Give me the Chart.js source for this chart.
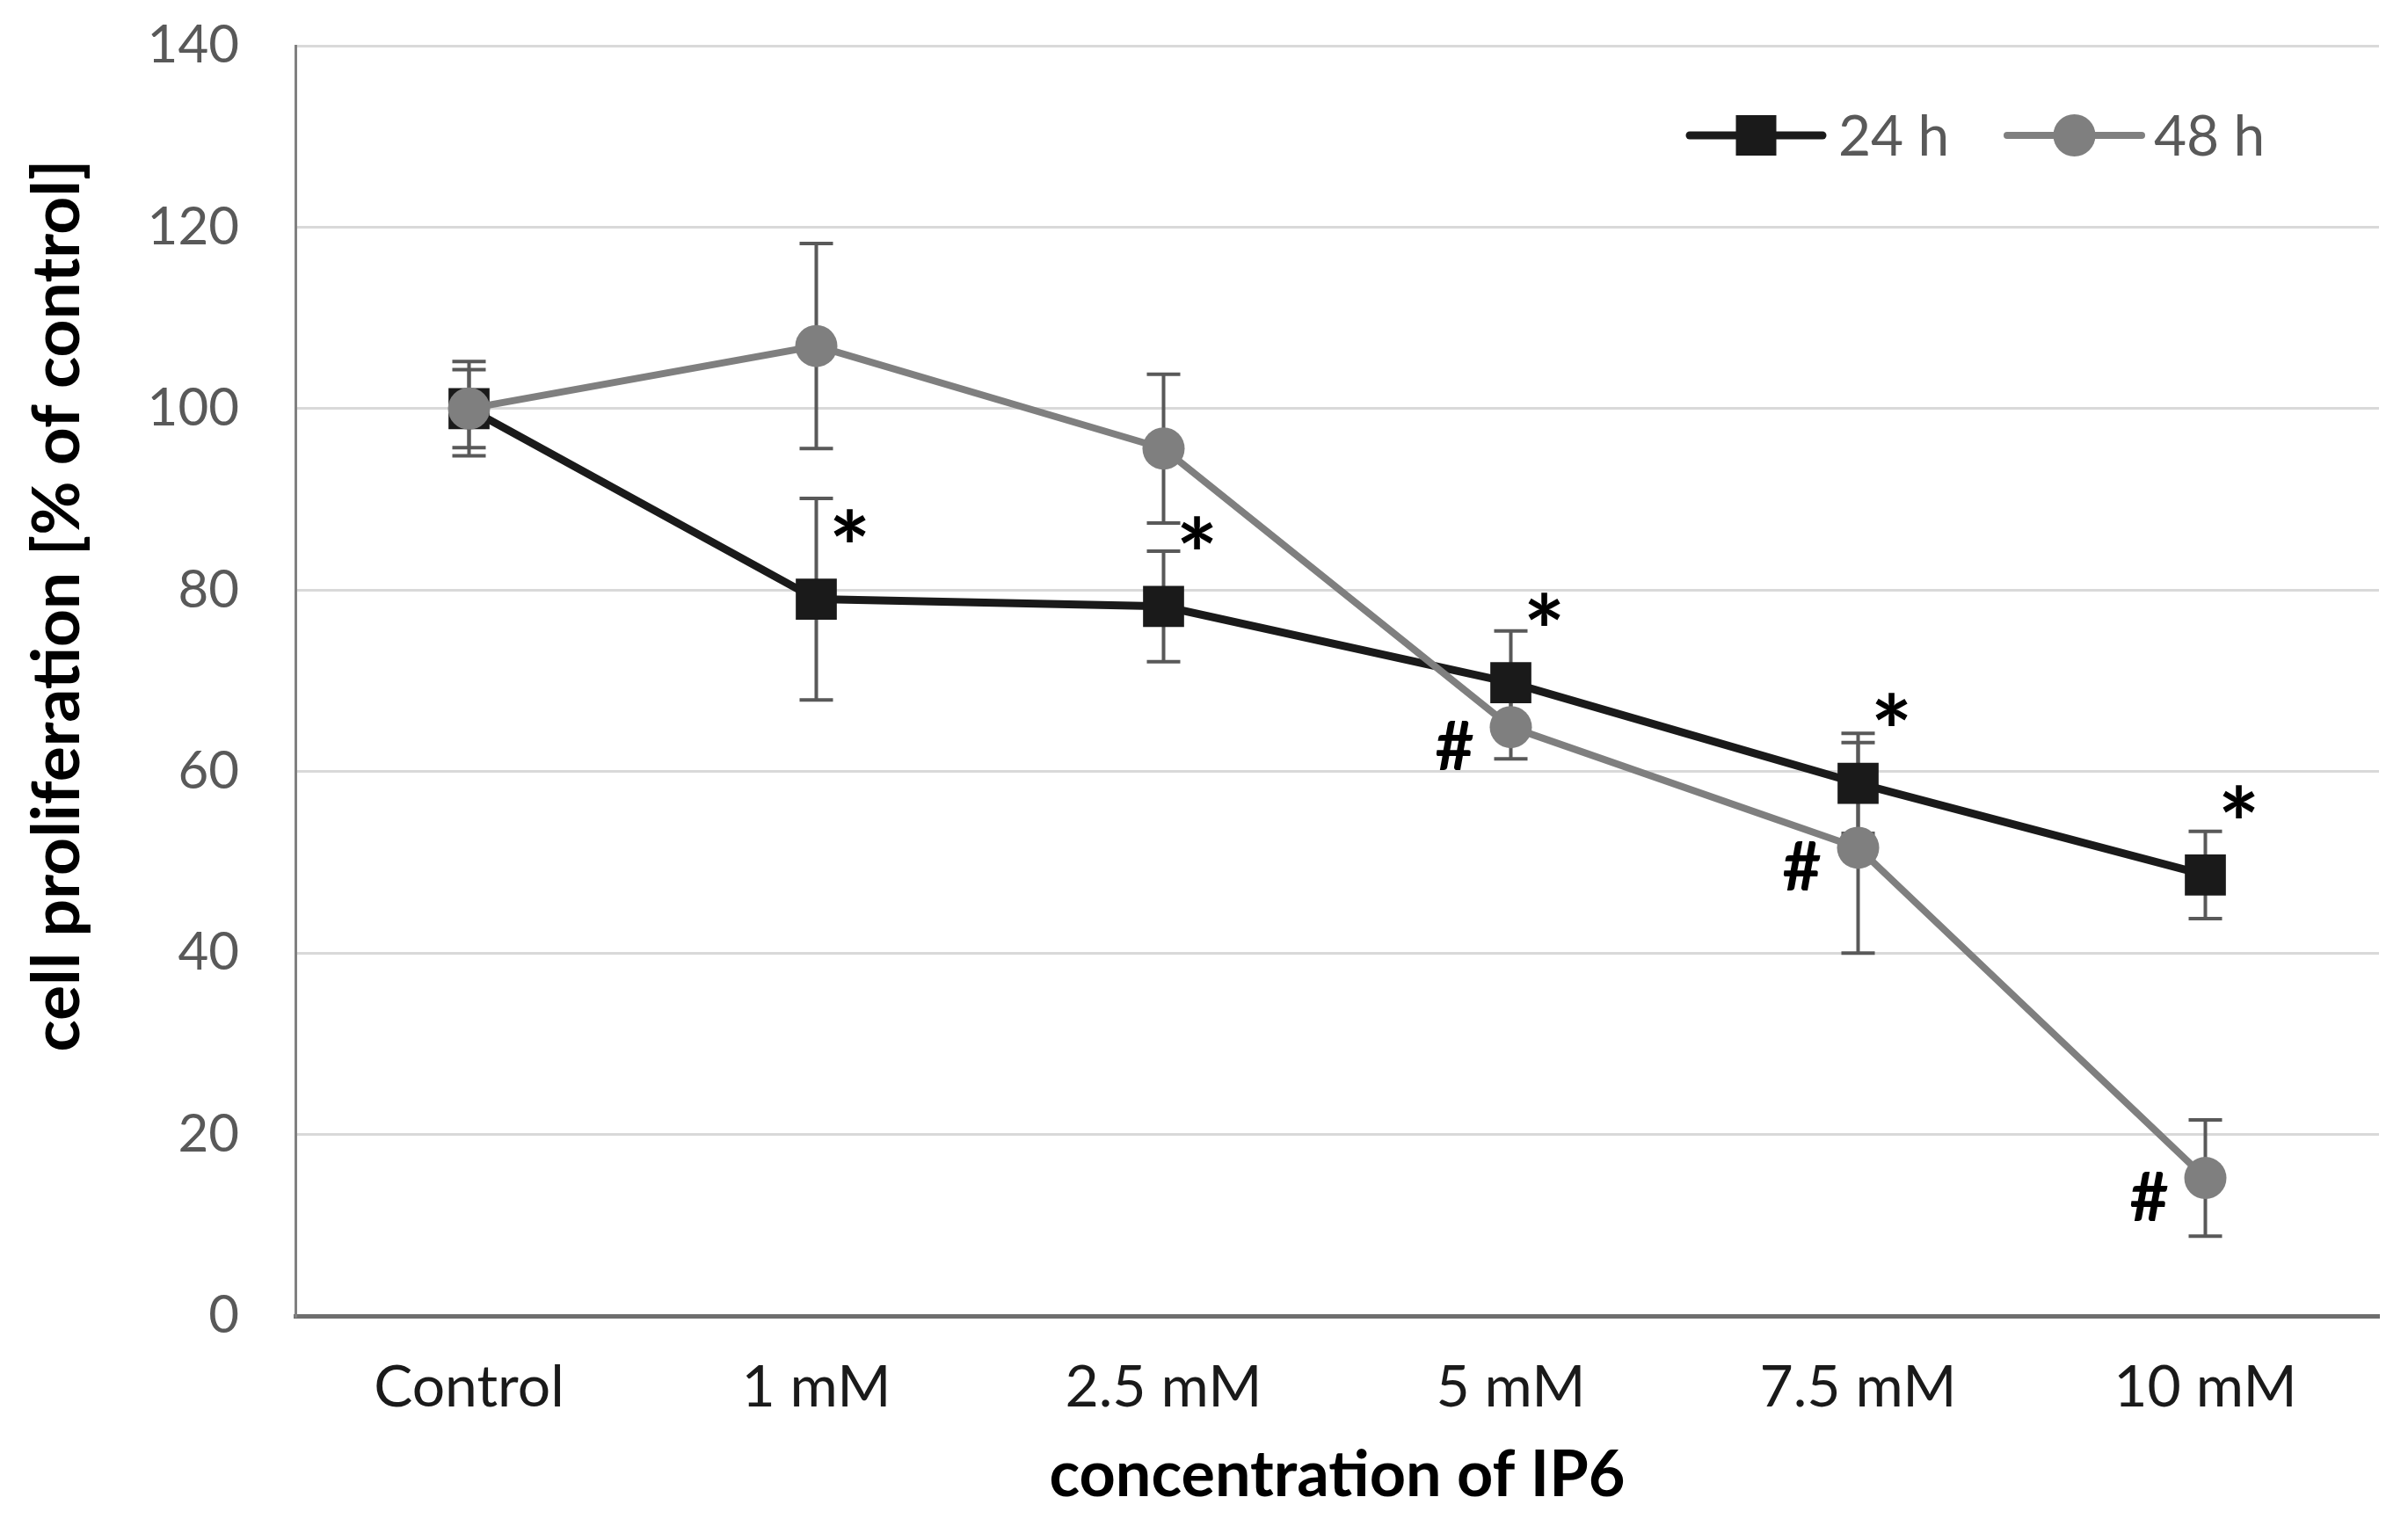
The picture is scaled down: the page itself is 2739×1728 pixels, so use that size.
<!DOCTYPE html>
<html><head><meta charset="utf-8">
<script src="https://cdn.jsdelivr.net/npm/chart.js@4.4.0/dist/chart.umd.min.js"></script>
<style>html,body{margin:0;padding:0;background:#fff;} canvas{display:block}</style>
</head><body>
<canvas id="c" width="2739" height="1728"></canvas>
<script>
const categories = ['Control', '1 mM', '2.5 mM', '5 mM', '7.5 mM', '10 mM'];
const values24 = [100, 79.0, 78.2, 69.8, 58.7, 48.6];
const values48 = [100, 106.9, 95.6, 64.9, 51.6, 15.2];
const err24 = [4.3, 11.1, 6.1, 5.7, 5.5, 4.8];
const err48 = [5.2, 11.3, 8.2, 3.5, 11.6, 6.4];
const sig24 = ['', '*', '*', '*', '*', '*'];
const sig48 = ['', '', '', '#', '#', '#'];
const yTicks = [0, 20, 40, 60, 80, 100, 120, 140];
const seriesNames = ['24 h', '48 h'];
const xTitle = 'concentration of IP6';
const yTitle = 'cell proliferation [% of control]';

const FONT = 'Lato';
const C24 = '#1a1a1a', C48 = '#7f7f7f', CERR = '#595959';

const extras = {
  id: 'extras',
  beforeDatasetsDraw(chart) {
    const ctx = chart.ctx, xs = chart.scales.x, ys = chart.scales.y;
    ctx.save();
    ctx.strokeStyle = CERR; ctx.lineWidth = 4; ctx.lineCap = 'butt';
    [[values24, err24], [values48, err48]].forEach(([v, e]) => {
      v.forEach((val, i) => {
        const px = xs.getPixelForValue(i);
        const top = ys.getPixelForValue(val + e[i]);
        const bot = ys.getPixelForValue(val - e[i]);
        ctx.beginPath();
        ctx.moveTo(px, top); ctx.lineTo(px, bot);
        ctx.moveTo(px - 19, top); ctx.lineTo(px + 19, top);
        ctx.moveTo(px - 19, bot); ctx.lineTo(px + 19, bot);
        ctx.stroke();
      });
    });
    ctx.restore();
  },
  afterDatasetsDraw(chart) {
    const ctx = chart.ctx, xs = chart.scales.x, ys = chart.scales.y;
    ctx.save();
    ctx.fillStyle = '#000';
    ctx.textAlign = 'center'; ctx.textBaseline = 'middle';
    ctx.font = 'bold 112px ' + FONT;
    sig24.forEach((s, i) => {
      if (!s) return;
      ctx.fillText(s, xs.getPixelForValue(i) + 38, ys.getPixelForValue(values24[i]) - 54);
    });
    ctx.font = 'bold 76px ' + FONT;
    sig48.forEach((s, i) => {
      if (!s) return;
      ctx.fillText(s, xs.getPixelForValue(i) - 64, ys.getPixelForValue(values48[i]) + 24);
    });
    // y axis title
    ctx.save();
    ctx.translate(66, 689);
    ctx.rotate(-Math.PI / 2);
    ctx.font = 'bold 75px ' + FONT;
    ctx.fillStyle = '#000';
    ctx.textAlign = 'center'; ctx.textBaseline = 'middle';
    ctx.fillText(yTitle, 0, 0);
    ctx.restore();
    // legend
    const items = [
      {name: seriesNames[0], color: C24, lw: 9, style: 'rect', x0: 1922, x1: 2073, tx: 2091},
      {name: seriesNames[1], color: C48, lw: 8, style: 'circle', x0: 2283, x1: 2436, tx: 2450}
    ];
    const ly = 154;
    items.forEach(it => {
      ctx.strokeStyle = it.color; ctx.lineWidth = it.lw; ctx.lineCap = 'round';
      ctx.beginPath(); ctx.moveTo(it.x0, ly); ctx.lineTo(it.x1, ly); ctx.stroke();
      ctx.fillStyle = it.color;
      const cx = (it.x0 + it.x1) / 2;
      ctx.beginPath();
      if (it.style === 'rect') ctx.rect(cx - 23, ly - 23, 46, 46);
      else ctx.arc(cx, ly, 24, 0, Math.PI * 2);
      ctx.fill();
      ctx.fillStyle = '#595959';
      ctx.font = '64px ' + FONT;
      ctx.textAlign = 'left'; ctx.textBaseline = 'middle';
      ctx.fillText(it.name, it.tx, ly + 2);
    });
    ctx.restore();
  }
};

function draw() {
  new Chart(document.getElementById('c'), {
    type: 'line',
    data: {
      labels: categories,
      datasets: [
        {label: seriesNames[0], data: values24, borderColor: C24, backgroundColor: C24,
         borderWidth: 9, pointStyle: 'rect', pointRadius: 33, pointBorderWidth: 0,
         pointBackgroundColor: C24, order: 2, tension: 0},
        {label: seriesNames[1], data: values48, borderColor: C48, backgroundColor: C48,
         borderWidth: 8, pointStyle: 'circle', pointRadius: 24, pointBorderWidth: 0,
         pointBackgroundColor: C48, order: 1, tension: 0}
      ]
    },
    options: {
      responsive: false, animation: false, devicePixelRatio: 1,
      layout: {padding: {top: 52, right: 27, left: 0, bottom: 0}},
      plugins: {legend: {display: false}, tooltip: {enabled: false}},
      scales: {
        x: {
          offset: true,
          grid: {display: false, drawTicks: false},
          border: {display: true, color: '#6e6e6e', width: 5},
          ticks: {color: '#1a1a1a', font: {family: FONT, size: 66}, padding: 42, maxRotation: 0},
          title: {display: true, text: xTitle, color: '#000', font: {family: FONT, size: 72, weight: 'bold'}, padding: {top: 0, bottom: 6}},
          afterFit(s) { s.height = 231; s.paddingLeft = 0; s.paddingRight = 0; }
        },
        y: {
          min: 0, max: 140,
          afterBuildTicks(s) { s.ticks = yTicks.map(v => ({value: v})); },
          grid: {color: '#d9d9d9', lineWidth: 3, drawTicks: false},
          border: {display: true, color: '#808080', width: 3},
          ticks: {color: '#595959', font: {family: FONT, size: 60}, padding: 64},
          title: {display: false},
          afterFit(s) { s.width = 336; s.paddingTop = 0; s.paddingBottom = 0; }
        }
      }
    },
    plugins: [extras]
  });
}
Promise.all([
  document.fonts.load('58px Lato'), document.fonts.load('bold 72px Lato')
]).then(draw, draw);
</script>
</body></html>
